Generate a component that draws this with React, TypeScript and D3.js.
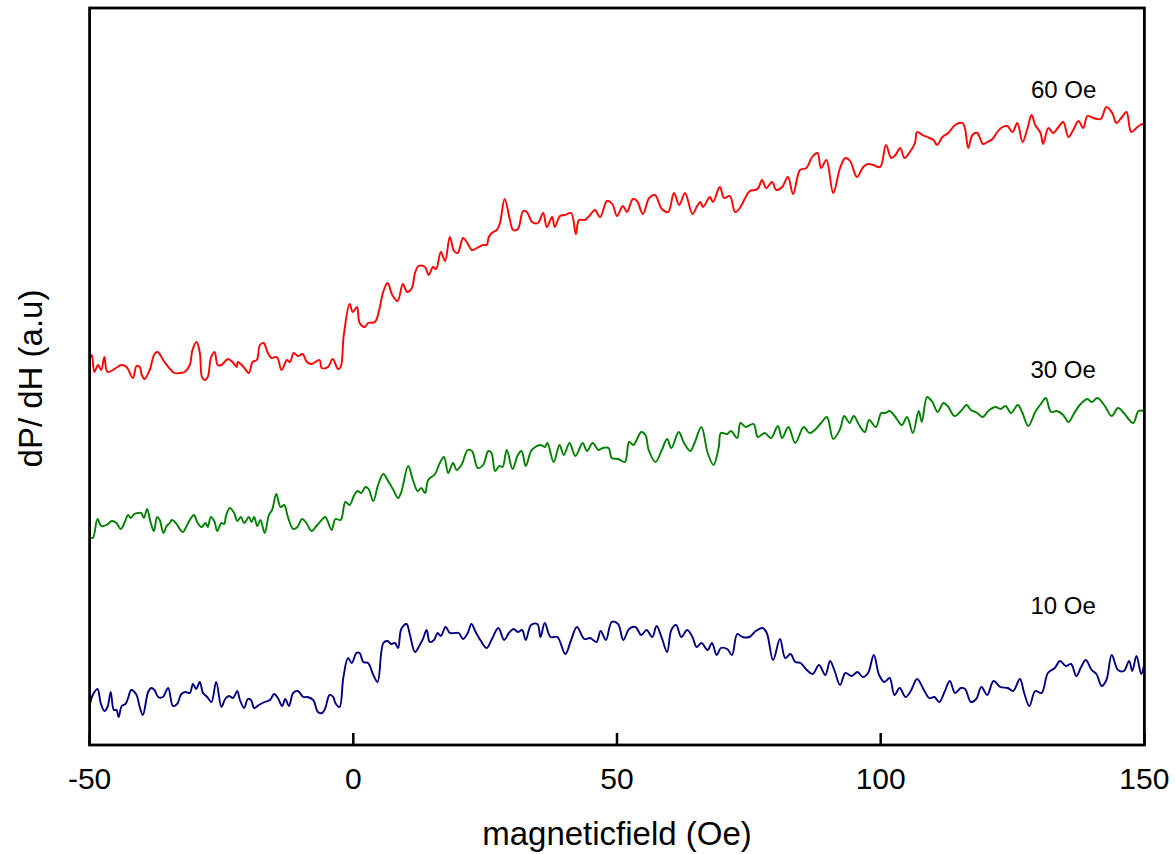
import React from 'react'
import * as d3 from 'd3'

// dP/dH vs champ magnétique, trois amplitudes de modulation.
// Valeurs (unité arbitraire).

const xTicks = [-50, 0, 50, 100, 150]

const curve60: [number, number][] = [
  [-50, 3.87], [-49.6, 3.9], [-49.1, 3.73], [-48.4, 3.8], [-47.8, 3.75], [-47.2, 3.88], [-46.6, 3.73],
  [-44.7, 3.78], [-44.0, 3.8], [-43.0, 3.78], [-41.8, 3.67], [-41.1, 3.79], [-40.5, 3.78], [-40.1, 3.7],
  [-39.6, 3.66], [-38.6, 3.75], [-37.7, 3.91], [-37.1, 3.93], [-35.8, 3.83], [-33.9, 3.72], [-32.9, 3.72],
  [-32.0, 3.73], [-31.0, 3.8], [-30.5, 3.95], [-29.7, 4.03], [-29.1, 3.92], [-28.7, 3.68], [-28.2, 3.65],
  [-27.6, 3.68], [-27.0, 3.87], [-26.3, 3.93], [-25.7, 3.8], [-25.0, 3.8], [-23.8, 3.86], [-22.9, 3.83],
  [-22.1, 3.78], [-21.9, 3.83], [-20.8, 3.78], [-19.8, 3.72], [-19.1, 3.83], [-18.3, 3.85], [-17.7, 4.0],
  [-17.0, 4.02], [-16.2, 3.92], [-15.5, 3.87], [-14.5, 3.88], [-13.6, 3.75], [-12.6, 3.85], [-12.0, 3.83],
  [-11.3, 3.92], [-10.5, 3.89], [-9.6, 3.91], [-8.8, 3.83], [-7.9, 3.81], [-6.4, 3.85], [-6.0, 3.77],
  [-4.8, 3.78], [-3.9, 3.86], [-2.9, 3.76], [-2.4, 3.78], [-1.8, 4.1], [-0.7, 4.41], [-0.1, 4.33],
  [0.7, 4.38], [1.2, 4.22], [2.2, 4.18], [2.8, 4.22], [4.1, 4.23], [5.0, 4.37], [5.6, 4.52], [6.5, 4.62],
  [7.4, 4.5], [8.4, 4.44], [9.4, 4.61], [10.2, 4.53], [11.1, 4.57], [11.7, 4.72], [12.4, 4.79], [13.6, 4.78],
  [14.3, 4.7], [15.1, 4.78], [15.7, 4.76], [16.6, 4.93], [17.4, 4.84], [18.3, 5.08], [19.1, 4.94],
  [19.8, 4.92], [20.8, 5.07], [21.5, 5.03], [22.5, 4.95], [23.4, 4.97], [24.6, 5.0], [25.3, 5.0],
  [25.7, 5.08], [26.5, 5.13], [27.2, 5.15], [27.8, 5.22], [28.7, 5.46], [29.7, 5.25], [30.3, 5.15],
  [31.2, 5.16], [32.2, 5.34], [32.9, 5.33], [33.9, 5.23], [35.0, 5.22], [36.0, 5.32], [36.7, 5.18],
  [37.7, 5.28], [38.2, 5.18], [39.2, 5.29], [40.1, 5.3], [41.3, 5.32], [42.2, 5.11], [42.8, 5.25],
  [43.9, 5.25], [44.9, 5.3], [45.8, 5.35], [46.8, 5.28], [48.1, 5.44], [49.1, 5.41], [50.0, 5.29],
  [51.1, 5.39], [51.9, 5.33], [53.0, 5.46], [53.8, 5.44], [54.9, 5.31], [56.1, 5.47], [57.2, 5.5],
  [58.5, 5.36], [59.7, 5.33], [60.8, 5.52], [61.8, 5.4], [62.9, 5.52], [64.3, 5.31], [65.2, 5.39],
  [65.8, 5.43], [66.3, 5.38], [67.6, 5.48], [68.2, 5.43], [69.5, 5.58], [70.3, 5.47], [71.4, 5.49],
  [72.4, 5.33], [73.3, 5.37], [74.3, 5.47], [75.2, 5.54], [76.2, 5.55], [76.8, 5.57], [77.5, 5.65],
  [78.3, 5.57], [79.4, 5.63], [80.2, 5.55], [81.3, 5.58], [82.4, 5.68], [83.4, 5.51], [84.7, 5.75],
  [85.9, 5.77], [87.0, 5.88], [88.0, 5.92], [88.7, 5.77], [89.7, 5.85], [91.0, 5.52], [92.3, 5.77],
  [93.3, 5.87], [94.2, 5.84], [95.5, 5.68], [96.7, 5.78], [97.6, 5.81], [98.6, 5.8], [99.9, 5.78],
  [101.0, 6.0], [102.0, 5.87], [102.8, 5.9], [103.7, 5.97], [104.5, 5.87], [105.4, 5.92], [106.5, 6.02],
  [106.9, 6.13], [107.9, 6.1], [108.8, 6.08], [110.0, 6.05], [110.7, 6.0], [111.7, 6.08], [112.8, 6.12],
  [114.1, 6.2], [115.5, 6.22], [116.0, 6.16], [116.6, 5.97], [117.4, 6.1], [118.3, 6.12], [119.4, 6.01],
  [120.2, 6.03], [121.2, 6.06], [122.1, 6.13], [123.1, 6.18], [124.0, 6.19], [125.0, 6.13], [125.9, 6.22],
  [126.9, 6.03], [127.8, 6.16], [128.6, 6.3], [129.3, 6.2], [130.3, 6.12], [130.8, 6.01], [131.8, 6.17],
  [132.7, 6.12], [133.7, 6.18], [134.6, 6.23], [135.6, 6.08], [136.5, 6.15], [137.5, 6.24], [138.4, 6.17],
  [139.2, 6.29], [140.3, 6.27], [141.7, 6.26], [142.8, 6.38], [143.9, 6.32], [144.7, 6.22], [145.6, 6.27],
  [146.6, 6.33], [147.5, 6.13], [148.7, 6.18], [149.6, 6.21], [150, 6.19],
]

const curve30: [number, number][] = [
  [-50, 2.08], [-49.4, 2.07], [-48.5, 2.26], [-47.8, 2.19], [-46.8, 2.2], [-45.8, 2.24], [-44.9, 2.22],
  [-44.1, 2.16], [-43.4, 2.22], [-42.7, 2.3], [-42.2, 2.27], [-41.5, 2.31], [-40.8, 2.32], [-40.2, 2.32],
  [-39.7, 2.27], [-39.1, 2.36], [-38.4, 2.22], [-37.8, 2.14], [-37.2, 2.28], [-36.7, 2.25], [-36.0, 2.12],
  [-35.4, 2.19], [-34.8, 2.22], [-34.4, 2.25], [-33.5, 2.21], [-32.9, 2.16], [-32.3, 2.13], [-31.7, 2.18],
  [-31.0, 2.25], [-30.2, 2.3], [-29.6, 2.23], [-28.8, 2.18], [-28.0, 2.22], [-27.6, 2.18], [-27.0, 2.28],
  [-26.3, 2.23], [-25.8, 2.14], [-25.0, 2.22], [-24.5, 2.21], [-24.1, 2.3], [-23.4, 2.37], [-22.6, 2.32],
  [-22.0, 2.24], [-21.3, 2.28], [-20.7, 2.22], [-19.8, 2.28], [-19.3, 2.23], [-18.8, 2.28], [-18.2, 2.19],
  [-17.6, 2.25], [-16.8, 2.12], [-16.0, 2.3], [-15.4, 2.35], [-14.6, 2.51], [-13.8, 2.38], [-13.1, 2.4],
  [-12.4, 2.28], [-11.4, 2.16], [-10.6, 2.18], [-9.7, 2.26], [-8.9, 2.22], [-7.9, 2.14], [-7.0, 2.19],
  [-6.0, 2.25], [-5.3, 2.28], [-4.1, 2.15], [-3.4, 2.26], [-2.4, 2.25], [-1.5, 2.43], [-0.7, 2.4],
  [0.1, 2.49], [0.8, 2.54], [1.5, 2.52], [2.3, 2.58], [2.9, 2.56], [3.8, 2.44], [4.7, 2.6], [5.7, 2.71],
  [6.6, 2.64], [7.6, 2.55], [8.5, 2.47], [9.1, 2.53], [10.4, 2.79], [11.3, 2.65], [12.2, 2.54],
  [12.9, 2.57], [13.6, 2.52], [14.2, 2.65], [15.5, 2.71], [16.4, 2.82], [17.2, 2.88], [18.0, 2.72],
  [18.9, 2.82], [19.6, 2.75], [20.5, 2.8], [21.7, 2.95], [22.5, 2.94], [23.6, 2.77], [24.6, 2.8],
  [25.6, 2.94], [26.2, 2.92], [26.9, 2.74], [27.7, 2.79], [28.3, 2.78], [29.1, 2.95], [30.2, 2.76],
  [31.2, 2.9], [31.9, 2.94], [32.7, 2.79], [33.7, 2.94], [34.5, 2.98], [35.5, 3.0], [36.3, 2.98],
  [36.8, 3.02], [38.0, 2.83], [39.1, 3.0], [39.9, 2.9], [41.0, 3.02], [42.1, 2.89], [43.5, 3.02],
  [44.3, 2.94], [45.4, 3.02], [46.5, 2.95], [47.3, 2.97], [48.4, 2.97], [49.0, 2.87], [50.2, 2.86],
  [51.5, 2.83], [52.3, 3.03], [53.1, 3.0], [54.6, 3.13], [55.4, 3.1], [56.0, 2.95], [57.3, 2.83],
  [58.5, 2.95], [59.5, 3.06], [60.3, 2.97], [61.7, 3.13], [62.7, 3.02], [63.9, 2.94], [64.7, 3.02],
  [66.0, 3.18], [67.2, 2.92], [68.3, 2.8], [69.3, 2.98], [69.7, 3.12], [70.9, 3.11], [71.6, 3.14],
  [72.8, 3.07], [73.4, 3.22], [74.4, 3.18], [75.9, 3.21], [76.7, 3.08], [78.0, 3.12], [79.2, 3.07],
  [80.5, 3.19], [81.3, 3.07], [82.5, 3.18], [83.8, 3.02], [85.4, 3.18], [86.5, 3.12], [87.5, 3.15],
  [88.7, 3.22], [89.8, 3.28], [91.0, 3.06], [92.3, 3.16], [93.1, 3.29], [94.1, 3.22], [94.9, 3.29],
  [95.9, 3.2], [97.0, 3.13], [97.8, 3.25], [99.1, 3.18], [100.1, 3.32], [100.9, 3.32], [101.7, 3.34],
  [102.8, 3.28], [104.0, 3.2], [105.0, 3.28], [106.1, 3.12], [107.2, 3.34], [107.8, 3.23], [108.8, 3.48],
  [109.8, 3.43], [110.8, 3.33], [111.9, 3.42], [112.7, 3.39], [114.0, 3.29], [115.2, 3.34], [116.3, 3.4],
  [117.1, 3.35], [118.3, 3.32], [119.3, 3.28], [120.6, 3.35], [121.8, 3.38], [122.7, 3.36], [123.7, 3.39],
  [124.7, 3.32], [126.0, 3.4], [126.8, 3.33], [128.0, 3.19], [129.3, 3.33], [130.5, 3.42], [131.3, 3.47],
  [132.3, 3.33], [133.4, 3.34], [134.6, 3.3], [135.6, 3.23], [136.7, 3.32], [137.9, 3.41], [139.2, 3.46],
  [140.0, 3.43], [141.1, 3.47], [142.5, 3.39], [143.8, 3.29], [145.0, 3.37], [146.1, 3.32], [146.7, 3.28],
  [147.9, 3.22], [148.9, 3.34], [150, 3.34],
]

const curve10: [number, number][] = [
  [-50, 0.39], [-49.4, 0.5], [-48.5, 0.56], [-47.9, 0.42], [-47.2, 0.34], [-46.6, 0.38], [-46.0, 0.53],
  [-45.4, 0.35], [-44.9, 0.35], [-44.5, 0.28], [-43.9, 0.39], [-43.2, 0.41], [-42.7, 0.47], [-42.1, 0.55],
  [-41.1, 0.5], [-40.5, 0.38], [-39.9, 0.3], [-38.9, 0.53], [-38.3, 0.57], [-37.7, 0.55], [-37.0, 0.48],
  [-36.1, 0.48], [-35.1, 0.57], [-34.2, 0.39], [-33.4, 0.41], [-32.6, 0.51], [-31.8, 0.53], [-31.0, 0.52],
  [-30.4, 0.61], [-29.8, 0.56], [-29.1, 0.63], [-28.5, 0.52], [-27.7, 0.48], [-26.9, 0.43], [-26.0, 0.63],
  [-25.0, 0.38], [-24.3, 0.46], [-23.6, 0.49], [-22.8, 0.47], [-22.0, 0.54], [-21.5, 0.45], [-20.7, 0.37],
  [-20.0, 0.46], [-19.4, 0.45], [-18.8, 0.37], [-17.9, 0.4], [-16.8, 0.43], [-15.8, 0.45], [-15.0, 0.51],
  [-14.3, 0.47], [-13.5, 0.39], [-12.9, 0.46], [-12.2, 0.39], [-11.4, 0.52], [-10.5, 0.54], [-9.5, 0.48],
  [-8.7, 0.48], [-7.6, 0.45], [-6.7, 0.33], [-5.9, 0.32], [-5.3, 0.37], [-4.5, 0.5], [-3.8, 0.48],
  [-3.4, 0.42], [-2.6, 0.38], [-1.9, 0.67], [-1.0, 0.87], [-0.3, 0.82], [0.6, 0.92], [1.2, 0.92],
  [1.9, 0.83], [2.8, 0.82], [3.8, 0.7], [4.6, 0.63], [5.7, 1.02], [6.5, 1.04], [7.2, 1.01], [7.9, 1.02],
  [8.5, 0.97], [9.1, 1.16], [10.1, 1.21], [10.7, 1.11], [11.7, 0.93], [12.6, 1.0], [13.2, 1.06],
  [13.9, 1.15], [14.5, 1.03], [15.3, 1.05], [16.0, 1.12], [16.6, 1.09], [17.5, 1.18], [18.3, 1.12],
  [19.3, 1.12], [20.0, 1.12], [20.8, 1.06], [21.7, 1.12], [22.4, 1.21], [23.2, 1.13], [24.2, 1.04],
  [25.3, 0.97], [26.2, 1.05], [27.5, 1.17], [28.6, 1.05], [29.5, 1.12], [30.4, 1.16], [31.2, 1.13],
  [32.0, 1.15], [32.7, 1.05], [33.7, 1.2], [34.9, 1.21], [35.5, 1.08], [36.3, 1.22], [37.4, 1.08],
  [38.7, 1.08], [40.2, 0.91], [41.3, 1.05], [42.4, 1.18], [43.8, 1.06], [44.9, 1.07], [46.1, 1.03],
  [46.9, 1.14], [47.9, 1.05], [49.0, 1.23], [50.2, 1.21], [51.2, 1.05], [52.3, 1.16], [53.5, 1.18],
  [54.6, 1.1], [55.6, 1.15], [56.7, 1.08], [57.5, 1.19], [58.5, 1.07], [59.5, 0.93], [60.3, 1.15],
  [61.2, 1.2], [62.2, 1.08], [63.3, 1.15], [64.3, 1.08], [65.1, 0.98], [66.0, 1.02], [67.2, 0.95],
  [68.0, 1.02], [68.9, 0.9], [69.7, 0.97], [70.9, 0.96], [71.8, 0.9], [72.8, 1.11], [73.8, 1.08],
  [75.1, 1.08], [76.3, 1.14], [77.6, 1.17], [78.4, 1.12], [79.6, 0.85], [80.9, 1.06], [81.9, 0.87],
  [82.9, 0.91], [83.8, 0.83], [84.8, 0.82], [86.0, 0.75], [87.1, 0.71], [88.3, 0.8], [89.5, 0.7],
  [90.4, 0.84], [91.2, 0.75], [92.3, 0.6], [93.3, 0.72], [94.5, 0.69], [95.6, 0.73], [96.6, 0.68],
  [97.6, 0.72], [98.7, 0.9], [99.7, 0.7], [100.7, 0.63], [101.7, 0.67], [102.6, 0.5], [103.6, 0.57],
  [104.7, 0.48], [105.7, 0.54], [106.9, 0.66], [108.2, 0.55], [109.2, 0.47], [110.2, 0.48], [111.1, 0.43],
  [112.1, 0.53], [113.1, 0.64], [114.1, 0.52], [115.2, 0.57], [116.0, 0.56], [117.1, 0.43], [118.1, 0.46],
  [119.1, 0.58], [120.2, 0.5], [121.4, 0.64], [122.7, 0.58], [124.1, 0.57], [125.1, 0.54], [126.4, 0.66],
  [127.2, 0.52], [128.2, 0.39], [129.3, 0.54], [130.5, 0.52], [131.7, 0.72], [133.0, 0.77], [134.0, 0.84],
  [135.1, 0.79], [136.1, 0.81], [137.1, 0.69], [138.0, 0.78], [138.9, 0.85], [140.0, 0.75], [140.9, 0.71],
  [141.9, 0.59], [142.8, 0.65], [143.8, 0.9], [145.0, 0.75], [146.1, 0.74], [147.1, 0.84], [147.7, 0.74],
  [148.5, 0.89], [149.4, 0.71], [150, 0.82],
]

const seriesNames = ['60 Oe', '30 Oe', '10 Oe']

export default function App() {
  const width = 1175
  const height = 854
  const font = 'Arial, "Liberation Sans", Helvetica, sans-serif'

  const x = d3.scaleLinear().domain([-50, 150]).range([89.6, 1144.4])
  const y = d3.scaleLinear().domain([0, 7.37]).range([745, 8])

  // courbe lissée qui passe par les points lus
  const line = d3
    .line<[number, number]>()
    .x((d) => x(d[0]))
    .y((d) => y(d[1]))
    .curve(d3.curveCatmullRom.alpha(0.5))

  // étiquettes posées dans le repère des données
  const series = [
    { name: seriesNames[0], data: curve60, color: '#ff0000', labelX: 128.5, labelY: 6.47 },
    { name: seriesNames[1], data: curve30, color: '#008000', labelX: 128.4, labelY: 3.675 },
    { name: seriesNames[2], data: curve10, color: '#000080', labelX: 128.4, labelY: 1.315 },
  ]

  const [x0, x1] = x.range()
  const [yb, yt] = y.range()

  return (
    <svg width={width} height={height} style={{ display: 'block', position: 'absolute', left: 0, top: 0 }}>
      <rect width={width} height={height} fill="#fff" />

      {series.map((s) => (
        <path key={s.name} d={line(s.data) || ''} fill="none" stroke={s.color} strokeWidth={1.9} strokeLinejoin="round" />
      ))}

      {series.map((s) => (
        <text key={s.name + '-lbl'} x={x(s.labelX)} y={y(s.labelY)} fontFamily={font} fontSize={24} fill="#000">
          {s.name}
        </text>
      ))}

      {/* cadre */}
      <rect x={x0} y={yt} width={x1 - x0} height={yb - yt} fill="none" stroke="#000" strokeWidth={2.8} />

      {/* graduations internes */}
      {xTicks.map((t) => (
        <g key={t}>
          <line x1={x(t)} x2={x(t)} y1={yb} y2={yb - 12} stroke="#000" strokeWidth={2.5} />
          <text x={x(t)} y={789} textAnchor="middle" fontFamily={font} fontSize={30} fill="#000">
            {t}
          </text>
        </g>
      ))}

      <text x={(x0 + x1) / 2} y={845} textAnchor="middle" fontFamily={font} fontSize={33} fill="#000">
        magneticfield (Oe)
      </text>
      <text
        transform={`translate(42, ${(yt + yb) / 2 + 2}) rotate(-90)`}
        textAnchor="middle"
        fontFamily={font}
        fontSize={33}
        fill="#000"
      >
        dP/ dH (a.u)
      </text>
    </svg>
  )
}
